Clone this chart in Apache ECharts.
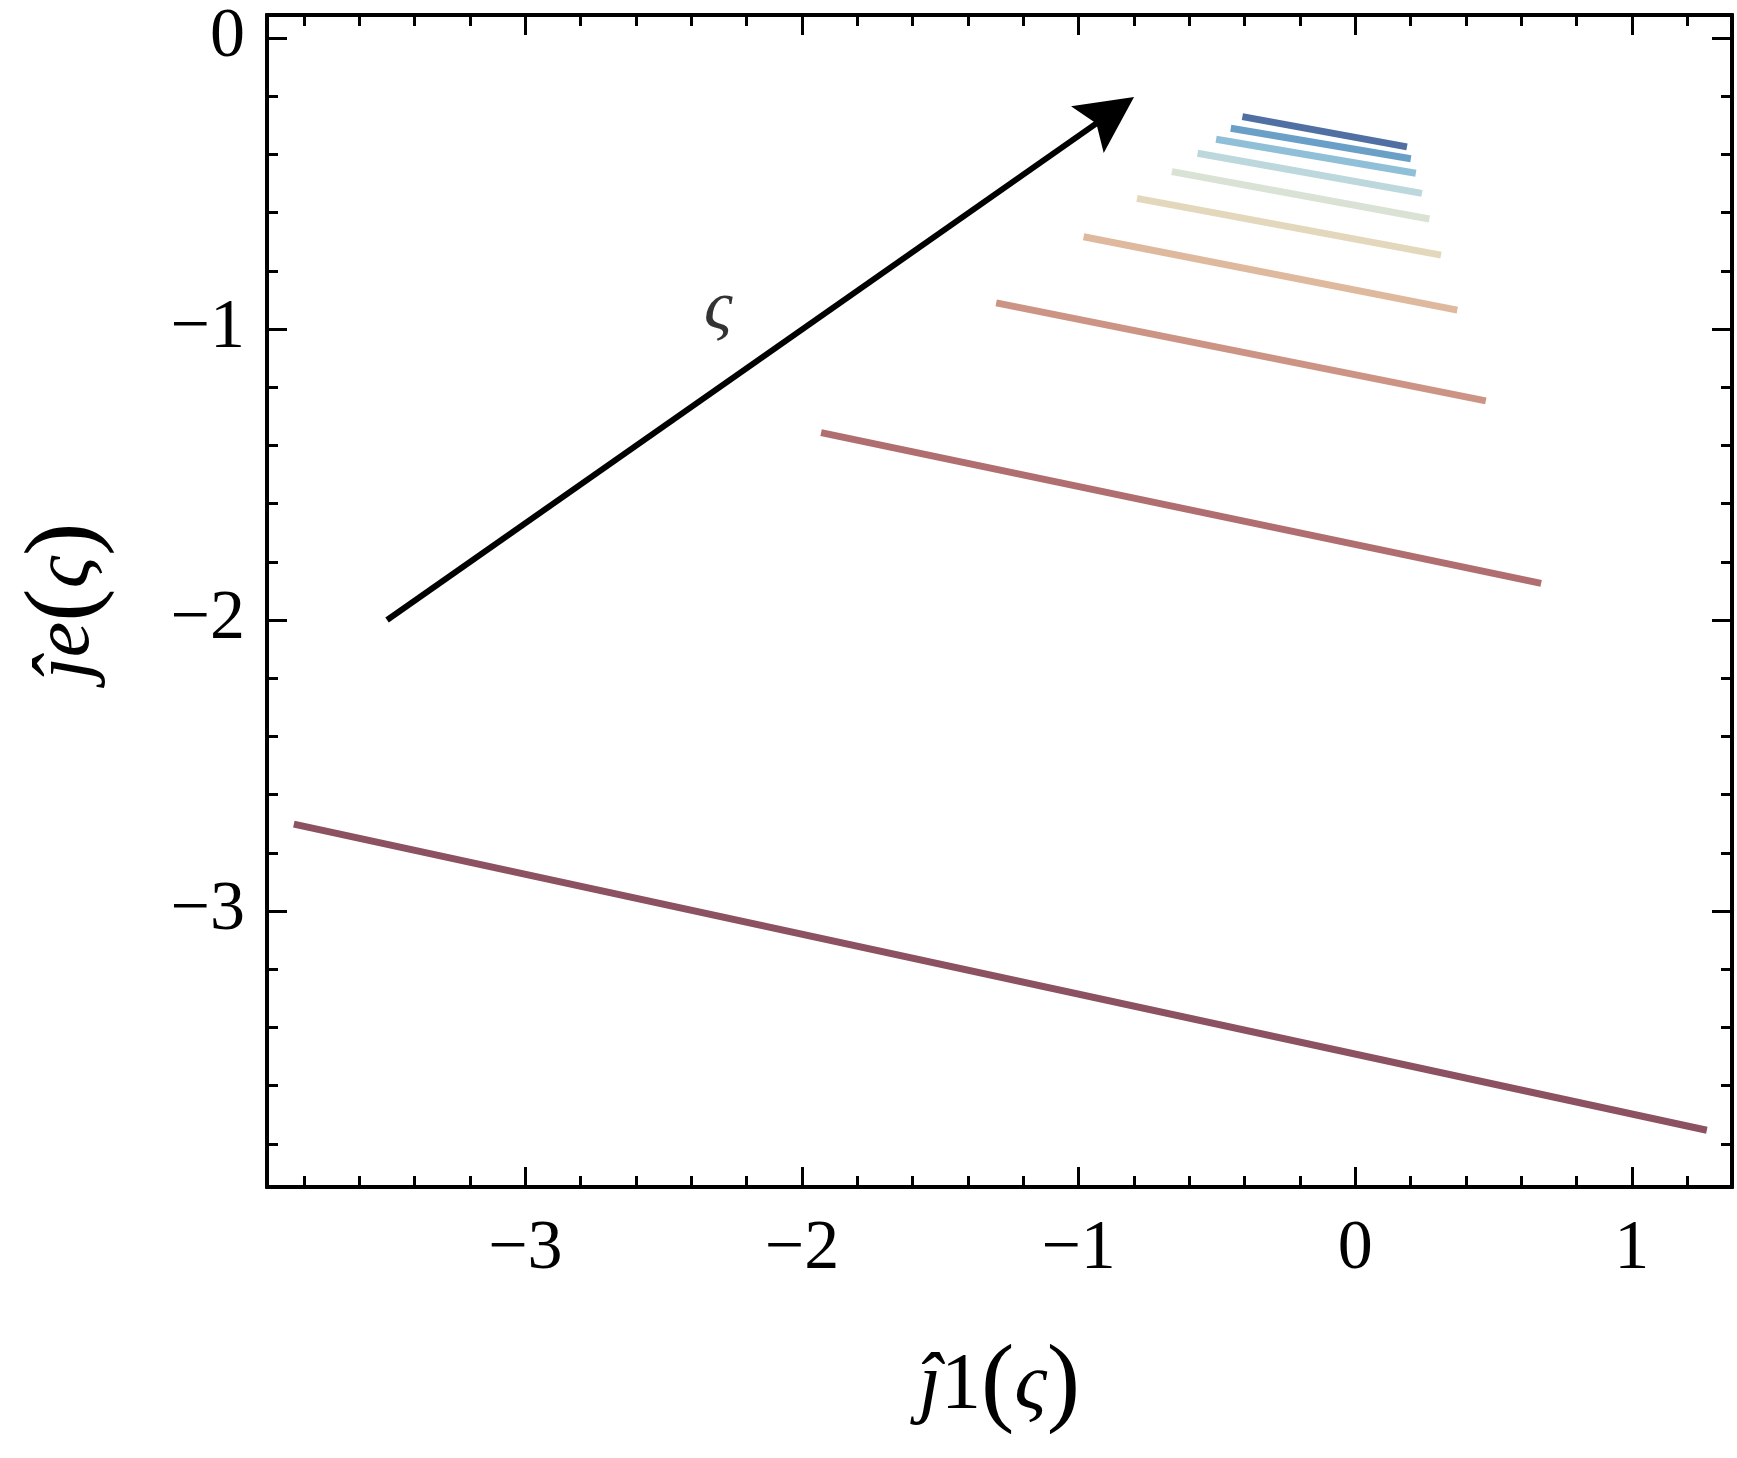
<!DOCTYPE html>
<html>
<head>
<meta charset="utf-8">
<script src="https://cdn.jsdelivr.net/npm/echarts@6/dist/echarts.min.js"></script>
<style>
  html, body { margin: 0; padding: 0; background: #fff; }
  #chart { width: 1737px; height: 1458px; }
</style>
</head>
<body>
<div id="chart"></div>
<script>
// each curve: [start, end] in (j1, je)
var curveStarts = [
	[-3.837, -2.701], [-1.931, -1.356], [-1.298, -0.910], [-0.982, -0.683], [-0.789, -0.551],
	[-0.663, -0.459], [-0.570, -0.396], [-0.503, -0.348], [-0.450, -0.310], [-0.408, -0.270]
];
var curveEnds = [
	[1.271, -3.753], [0.672, -1.874], [0.472, -1.247], [0.369, -0.935], [0.310, -0.746],
	[0.268, -0.622], [0.241, -0.534], [0.219, -0.465], [0.201, -0.415], [0.187, -0.374]
];
var curveColors = [
	'#8c5262', '#b06e70', '#cc9484', '#dfb99d', '#e4d8bc',
	'#d9e2d4', '#bcd8dd', '#90bfd8', '#6aa0c8', '#5070a3'
];
// arrow: start and centre of its head
var arrowFrom = [-3.5, -2.0];
var arrowTo = [-0.884, -0.259];
var sigmaPos = [-2.303, -0.935];

var xMajor = [-3, -2, -1, 0, 1];
var yMajor = [-3, -2, -1, 0];
var xMinor = [];
var yMinor = [];
for (var k = -19; k <= 6; k++) { xMinor.push(k / 5); }
for (var k = -19; k <= 0; k++) { yMinor.push(k / 5); }

var xMin = -3.934, xMax = 1.362;
var yMin = -3.948, yMax = 0.079;

var serif = '"Liberation Serif", "Times New Roman", serif';
var black = '#000';

function minus(v) {
	return String(v).replace('-', '\u2212');
}

function xAx(pos, ticks, len, labels) {
	return {
		type: 'value', position: pos, min: xMin, max: xMax,
		splitLine: { show: false },
		axisLine: { show: true, onZero: false, lineStyle: { color: black, width: 4 } },
		axisTick: { show: true, inside: true, length: len, customValues: ticks, lineStyle: { color: black, width: 3 } },
		axisLabel: labels ? {
			show: true, customValues: xMajor, formatter: minus, margin: 28,
			fontFamily: serif, fontSize: 70, color: black
		} : { show: false }
	};
}
function yAx(pos, ticks, len, labels) {
	return {
		type: 'value', position: pos, min: yMin, max: yMax,
		splitLine: { show: false },
		axisLine: { show: true, onZero: false, lineStyle: { color: black, width: 4 } },
		axisTick: { show: true, inside: true, length: len, customValues: ticks, lineStyle: { color: black, width: 3 } },
		axisLabel: labels ? {
			show: true, customValues: yMajor, formatter: minus, margin: 22,
			fontFamily: serif, fontSize: 70, color: black
		} : { show: false }
	};
}

var xAxes = [xAx('bottom', xMajor, 20, true), xAx('bottom', xMinor, 11, false), xAx('top', xMajor, 20, false), xAx('top', xMinor, 11, false)];
var yAxes = [yAx('left', yMajor, 20, true), yAx('left', yMinor, 11, false), yAx('right', yMajor, 20, false), yAx('right', yMinor, 11, false)];

var titleRich = {
	i: { fontFamily: serif, fontStyle: 'italic', fontSize: 80, color: black },
	r: { fontFamily: serif, fontSize: 80, color: black },
	p: { fontFamily: serif, fontSize: 100, color: black }
};
xAxes[0].name = '{i|\u0135}{r|1}{p|(}{i|\u03c2}{p|)}';
xAxes[0].nameLocation = 'middle';
xAxes[0].nameGap = 150;
xAxes[0].nameTextStyle = { rich: titleRich };
yAxes[0].name = '{i|\u0135e}{p|(}{i|\u03c2}{p|)}';
yAxes[0].nameLocation = 'middle';
yAxes[0].nameGap = 150;
yAxes[0].nameTextStyle = { rich: titleRich };

var series = [];
for (var i = 0; i < curveStarts.length; i++) {
	series.push({
		type: 'line',
		data: [curveStarts[i], curveEnds[i]],
		showSymbol: false,
		silent: true,
		lineStyle: { color: curveColors[i], width: 7, cap: 'butt' }
	});
}
series.push({
	type: 'lines',
	coordinateSystem: 'cartesian2d',
	data: [{ coords: [arrowFrom, arrowTo] }],
	symbol: ['none', 'path://M15,0 L30,57 L15,46 L0,57 Z'],
	symbolSize: 57,
	symbolKeepAspect: true,
	lineStyle: { color: black, width: 6, opacity: 1 },
	silent: true
});
series.push({
	type: 'scatter',
	data: [sigmaPos],
	symbolSize: 0,
	silent: true,
	label: {
		show: true, position: 'inside', formatter: '\u03c2',
		fontFamily: serif, fontStyle: 'italic', fontSize: 70, color: black
	}
});

var myChart = echarts.init(document.getElementById('chart'));
var option = {
	animation: false,
	backgroundColor: '#fff',
	grid: { left: 267, right: 5, top: 15, bottom: 271, containLabel: false },
	xAxis: xAxes,
	yAxis: yAxes,
	series: series
};
myChart.setOption(option, true);
</script>
</body>
</html>
